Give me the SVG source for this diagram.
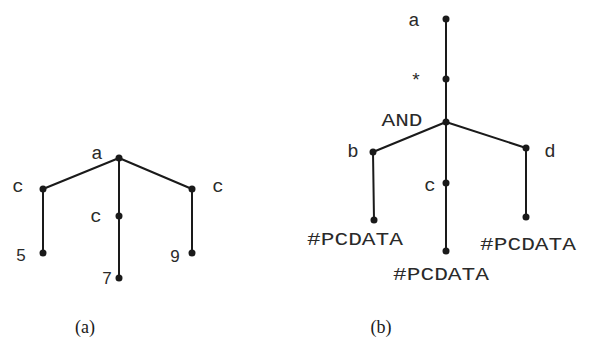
<svg xmlns="http://www.w3.org/2000/svg" width="590" height="340" viewBox="0 0 590 340">
  <style>
    .edge { stroke: #1a1a1a; stroke-width: 2; fill: none; stroke-linecap: round; }
    .dot { fill: #1a1a1a; }
    .mono { font-family: "Liberation Mono", "DejaVu Sans Mono", "Courier New", Courier, monospace; font-size: 19px; font-weight: normal; fill: #2a2a2a; text-anchor: middle; }
    .num { font-family: "Liberation Sans", Arial, sans-serif; font-size: 17px; fill: #2a2a2a; text-anchor: middle; }
    .cap { font-family: "Liberation Serif", "Times New Roman", serif; font-size: 18px; fill: #1a1a1a; text-anchor: middle; }
  </style>

  <!-- connectors -->
  <g id="edges">
    <!-- tree (a) -->
    <line class="edge" x1="119" y1="158" x2="43" y2="189"/>
    <line class="edge" x1="119" y1="158" x2="119" y2="216"/>
    <line class="edge" x1="119" y1="158" x2="192" y2="189"/>
    <line class="edge" x1="43" y1="189" x2="43" y2="253"/>
    <line class="edge" x1="119" y1="216" x2="119" y2="278"/>
    <line class="edge" x1="192" y1="189" x2="192" y2="253"/>
    <!-- tree (b) -->
    <line class="edge" x1="446" y1="19" x2="446" y2="79"/>
    <line class="edge" x1="446" y1="79" x2="446" y2="122"/>
    <line class="edge" x1="446" y1="122" x2="373" y2="152"/>
    <line class="edge" x1="446" y1="122" x2="446" y2="183"/>
    <line class="edge" x1="446" y1="122" x2="526" y2="148"/>
    <line class="edge" x1="373" y1="152" x2="374" y2="220"/>
    <line class="edge" x1="446" y1="183" x2="446" y2="251"/>
    <line class="edge" x1="526" y1="148" x2="526" y2="217"/>
  </g>

  <!-- tree (a) nodes -->
  <g id="a-root"><circle class="dot" cx="119" cy="158" r="3.5"/><text class="mono" x="97" y="159">a</text></g>
  <g id="a-c1"><circle class="dot" cx="43" cy="189" r="3.5"/><text class="mono" x="18" y="192">c</text></g>
  <g id="a-c2"><circle class="dot" cx="119" cy="216" r="3.5"/><text class="mono" x="96" y="222">c</text></g>
  <g id="a-c3"><circle class="dot" cx="192" cy="189" r="3.5"/><text class="mono" x="218" y="192">c</text></g>
  <g id="a-5"><circle class="dot" cx="43" cy="253" r="3.5"/><text class="num" x="21" y="261">5</text></g>
  <g id="a-7"><circle class="dot" cx="119" cy="278" r="3.5"/><text class="num" x="107" y="284">7</text></g>
  <g id="a-9"><circle class="dot" cx="192" cy="253" r="3.5"/><text class="num" x="175" y="262">9</text></g>

  <!-- tree (b) nodes -->
  <g id="b-a"><circle class="dot" cx="446" cy="19" r="3.5"/><text class="mono" x="414" y="26">a</text></g>
  <g id="b-star"><circle class="dot" cx="446" cy="79" r="3.5"/><text class="mono" x="416" y="86">*</text></g>
  <g id="b-and"><circle class="dot" cx="446" cy="122" r="3.5"/><text class="mono" x="402" y="126" textLength="41" lengthAdjust="spacingAndGlyphs">AND</text></g>
  <g id="b-b"><circle class="dot" cx="373" cy="152" r="3.5"/><text class="mono" x="353" y="157">b</text></g>
  <g id="b-c"><circle class="dot" cx="446" cy="183" r="3.5"/><text class="mono" x="430" y="191">c</text></g>
  <g id="b-d"><circle class="dot" cx="526" cy="148" r="3.5"/><text class="mono" x="550" y="157">d</text></g>
  <g id="b-pc1"><circle class="dot" cx="374" cy="220" r="3.5"/><text class="mono" x="355" y="245" textLength="96" lengthAdjust="spacingAndGlyphs">#PCDATA</text></g>
  <g id="b-pc2"><circle class="dot" cx="446" cy="251" r="3.5"/><text class="mono" x="441" y="280" textLength="96" lengthAdjust="spacingAndGlyphs">#PCDATA</text></g>
  <g id="b-pc3"><circle class="dot" cx="526" cy="217" r="3.5"/><text class="mono" x="528" y="250" textLength="96" lengthAdjust="spacingAndGlyphs">#PCDATA</text></g>

  <!-- captions -->
  <text class="cap" x="85" y="333">(a)</text>
  <text class="cap" x="381" y="333">(b)</text>
</svg>
